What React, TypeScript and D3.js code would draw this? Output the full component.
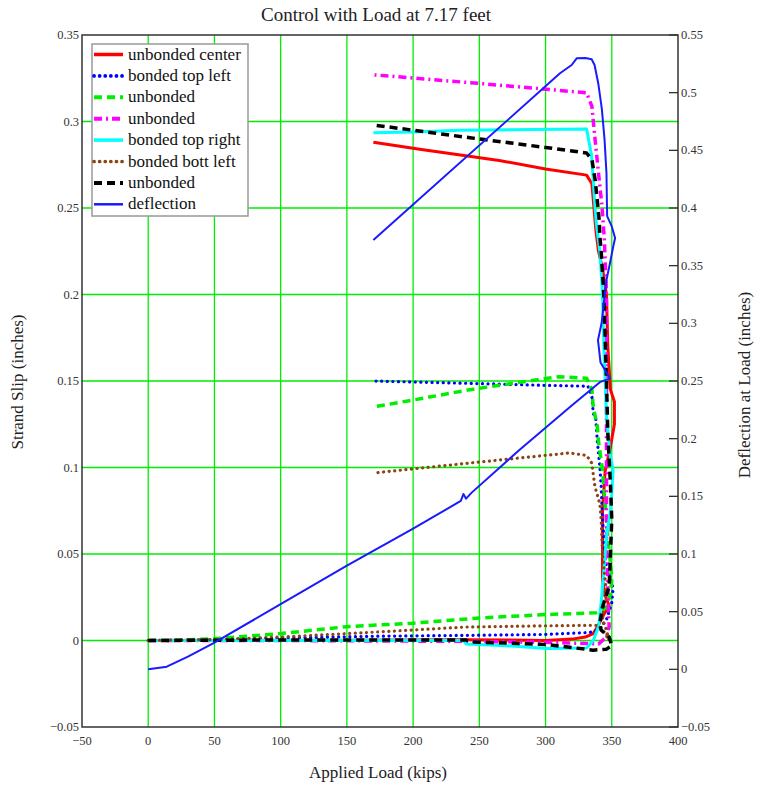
import React from "react";
import * as d3 from "d3";

type P = [number, number];

const title = "Control with Load at 7.17 feet";
const xLabel = "Applied Load (kips)";
const yLeftLabel = "Strand Slip (inches)";
const yRightLabel = "Deflection at Load (inches)";

const xTicks = [-50, 0, 50, 100, 150, 200, 250, 300, 350, 400];
const yLeftTicks = [-0.05, 0, 0.05, 0.1, 0.15, 0.2, 0.25, 0.3, 0.35];
const yRightTicks = [-0.05, 0, 0.05, 0.1, 0.15, 0.2, 0.25, 0.3, 0.35, 0.4, 0.45, 0.5, 0.55];

const unbondedCenter: P[] = [
  [0, 0], [50, 0], [100, 0], [150, 0.0002], [200, 0.0003], [240, 0.0005], [270, 0.0003], [300, 0], [320, 0.0008],
  [330, 0.002], [336, 0.004], [340, 0.009], [344, 0.015], [348, 0.02], [345, 0.026], [343, 0.035], [343, 0.05],
  [343, 0.075], [345, 0.098], [349, 0.112], [352, 0.125], [352, 0.138], [349, 0.145], [347, 0.17], [346, 0.2],
  [343, 0.215], [340, 0.225], [338, 0.237], [336, 0.255], [335, 0.264], [331, 0.269], [300, 0.2725], [265, 0.2775],
  [205, 0.284], [170, 0.288],
];

const bondedTopLeft: P[] = [
  [0, 0], [50, 0.0005], [100, 0.0015], [175, 0.0025], [243, 0.003], [300, 0.0035], [333, 0.0046], [340, 0.006],
  [346, 0.012], [350, 0.022], [351, 0.03], [348, 0.038], [345, 0.046], [344, 0.06], [343, 0.07], [342, 0.089],
  [341, 0.1], [339, 0.116], [338, 0.1275], [336, 0.1315], [335, 0.141], [332, 0.147], [300, 0.1475], [250, 0.1485],
  [170, 0.15],
];

const unbondedA: P[] = [
  [0, 0], [25, 0.0003], [50, 0.001], [100, 0.004], [150, 0.008], [200, 0.01], [250, 0.013], [300, 0.015],
  [338, 0.016], [346, 0.019], [349, 0.027], [350, 0.035], [349, 0.045], [347, 0.06], [345, 0.079], [343, 0.0985],
  [340, 0.115], [339, 0.124], [336, 0.135], [335, 0.145], [331, 0.1516], [310, 0.1525], [296, 0.151], [243, 0.145],
  [200, 0.139], [170, 0.135],
];

const unbondedB: P[] = [
  [0, 0], [100, 0], [240, -0.0005], [300, -0.001], [340, -0.002], [346, 0.002], [348, 0.008], [347, 0.03],
  [346, 0.06], [346, 0.1], [346, 0.15], [346, 0.2], [344.4, 0.2317], [342.6, 0.251], [340, 0.27], [337.4, 0.2895],
  [335, 0.3088], [331, 0.3166], [250, 0.322], [170, 0.327],
];

const bondedTopRight: P[] = [
  [0, 0], [100, 0], [200, 0], [238, 0], [240, -0.002], [270, -0.003], [301, -0.0046], [331, -0.0043], [336, 0],
  [340, 0.008], [342, 0.022], [344, 0.04], [346, 0.06], [349, 0.075], [350, 0.085], [351, 0.0985], [348.6, 0.108],
  [346, 0.13], [344, 0.17], [343, 0.2], [341, 0.225], [338.5, 0.24], [337.3, 0.251], [334.8, 0.28], [331, 0.2957],
  [235, 0.295], [200, 0.294], [170, 0.2935],
];

const bondedBottLeft: P[] = [
  [0, 0], [50, 0.0005], [100, 0.002], [175, 0.005], [240, 0.0078], [300, 0.0085], [340, 0.0088], [345, 0.004],
  [348, 0], [346, 0.006], [343, 0.012], [345.5, 0.031], [343, 0.05], [342, 0.0696], [341, 0.079], [337.3, 0.089],
  [334.8, 0.1026], [331, 0.107], [318, 0.1084], [243, 0.1026], [170, 0.0968],
];

const unbondedC: P[] = [
  [0, 0], [100, 0.0003], [240, 0.0003], [243, -0.0008], [301, -0.0023], [336, -0.0056], [346, -0.005], [350, -0.003],
  [348, 0.002], [342, 0.006], [341, 0.01], [343, 0.0194], [348, 0.031], [349, 0.05], [350, 0.07], [349, 0.09],
  [347, 0.12], [346, 0.15], [344, 0.2], [342, 0.225], [341, 0.2336], [340.5, 0.243], [339, 0.2548], [337.5, 0.266],
  [335, 0.278], [331, 0.2818], [300, 0.285], [243, 0.2906], [170, 0.298],
];

const deflection: P[] = [
  [0, 0], [14, 0.0023], [30, 0.011], [49, 0.0225], [99, 0.0558], [150, 0.09], [200, 0.122], [236, 0.146],
  [238, 0.152], [240, 0.148], [244, 0.153], [280, 0.19], [320, 0.229], [341, 0.249], [348.6, 0.2523],
  [341.5, 0.266], [339.6, 0.2855], [342.3, 0.3], [346, 0.3376], [348.6, 0.352], [351, 0.366], [352.5, 0.374],
  [350, 0.384], [346.5, 0.393], [346, 0.43], [344.5, 0.46], [342.5, 0.486], [339.8, 0.508], [337, 0.524], [334.8, 0.529],
  [330, 0.53], [323.5, 0.5298], [319.7, 0.524], [310.9, 0.5168], [170, 0.3722],
];

const seriesNames = [
  "unbonded center", "bonded top left", "unbonded", "unbonded", "bonded top right", "bonded bott left", "unbonded", "deflection",
];
const seriesData = [unbondedCenter, bondedTopLeft, unbondedA, unbondedB, bondedTopRight, bondedBottLeft, unbondedC, deflection];

const styles = [
  { color: "#ff0000", width: 3, dash: "", cap: "butt" },
  { color: "#0000ff", width: 3.2, dash: "0.1 5.5", cap: "round" },
  { color: "#00ee00", width: 3.5, dash: "8 5", cap: "butt" },
  { color: "#ff00ff", width: 3.5, dash: "8 4 2 4", cap: "butt" },
  { color: "#00ffff", width: 3, dash: "", cap: "butt" },
  { color: "#8b4513", width: 3.2, dash: "0.1 5.5", cap: "round" },
  { color: "#000000", width: 3.5, dash: "8 5", cap: "butt" },
  { color: "#1a1aff", width: 2, dash: "", cap: "butt" },
];

const W = 759;
const H = 788;
const L = 82, R = 678, T = 35, B = 727;
const font = "'Liberation Serif', 'Times New Roman', serif";

function fmt(v: number) {
  const s = d3.format("")(Math.round(v * 1000) / 1000);
  return s.replace("-", "\u2212");
}

export default function App() {
  const x = d3.scaleLinear().domain([-50, 400]).range([L, R]);
  const yL = d3.scaleLinear().domain([-0.05, 0.35]).range([B, T]);
  const yR = d3.scaleLinear().domain([-0.05, 0.55]).range([B, T]);

  const lineL = d3.line<P>().x((d) => x(d[0])).y((d) => yL(d[1]));
  const lineR = d3.line<P>().x((d) => x(d[0])).y((d) => yR(d[1]));

  const legX = 92, legY = 44, legW = 156, legH = 172, rowH = 21.4;

  return (
    <svg width={W} height={H} style={{ position: "absolute", left: 0, top: 0, background: "#fff" }} fontFamily={font}>
      <rect x={0} y={0} width={W} height={H} fill="#fff" />
      <text x={376} y={21} fontSize={19} textAnchor="middle" fill="#222">{title}</text>

      {/* grid */}
      {xTicks.filter((t) => t > -50 && t < 400).map((t) => (
        <line key={"gx" + t} x1={x(t)} x2={x(t)} y1={T} y2={B} stroke="#00ee00" strokeWidth={1.3} />
      ))}
      {yLeftTicks.filter((t) => t > -0.05 && t < 0.35).map((t) => (
        <line key={"gy" + t} x1={L} x2={R} y1={yL(t)} y2={yL(t)} stroke="#00ee00" strokeWidth={1.3} />
      ))}

      {/* series */}
      <defs>
        <clipPath id="plot"><rect x={L} y={T} width={R - L} height={B - T} /></clipPath>
      </defs>
      <g clipPath="url(#plot)">
        {seriesData.map((d, i) => (
          <path
            key={"s" + i}
            d={(i === 7 ? lineR(d) : lineL(d)) || ""}
            fill="none"
            stroke={styles[i].color}
            strokeWidth={styles[i].width}
            strokeDasharray={styles[i].dash || undefined}
            strokeLinecap={styles[i].cap as any}
            strokeLinejoin="round"
          />
        ))}
      </g>

      {/* frame */}
      <rect x={L} y={T} width={R - L} height={B - T} fill="none" stroke="#333" strokeWidth={1.5} />

      {/* left ticks */}
      {yLeftTicks.map((t) => (
        <text key={"yl" + t} x={79} y={yL(t) + 4} fontSize={12.5} textAnchor="end" fill="#333">{fmt(t)}</text>
      ))}
      {/* right ticks */}
      {yRightTicks.map((t) => (
        <g key={"yr" + t}>
          <line x1={R - 9} x2={R} y1={yR(t)} y2={yR(t)} stroke="#333" strokeWidth={1.3} />
          <text x={681} y={yR(t) + 4} fontSize={12.5} textAnchor="start" fill="#333">{fmt(t)}</text>
        </g>
      ))}
      {/* x ticks */}
      {xTicks.map((t) => (
        <text key={"xt" + t} x={x(t)} y={745} fontSize={12.5} textAnchor="middle" fill="#333">{fmt(t)}</text>
      ))}

      <text x={378} y={778} fontSize={17} textAnchor="middle" fill="#222">{xLabel}</text>
      <text transform={`translate(23,382) rotate(-90)`} fontSize={17} textAnchor="middle" fill="#222">{yLeftLabel}</text>
      <text transform={`translate(750,385) rotate(-90)`} fontSize={17} textAnchor="middle" fill="#222">{yRightLabel}</text>

      {/* legend */}
      <rect x={legX} y={legY} width={legW} height={legH} fill="#fff" stroke="#999" strokeWidth={1.5} />
      {seriesNames.map((n, i) => {
        const cy = legY + 10.5 + i * rowH;
        return (
          <g key={"lg" + i}>
            <line x1={legX + 2} x2={legX + 31} y1={cy} y2={cy} stroke={styles[i].color}
              strokeWidth={styles[i].width + 0.5} strokeDasharray={styles[i].dash || undefined}
              strokeLinecap={styles[i].cap as any} />
            <text x={legX + 36} y={cy + 5} fontSize={17} fill="#111">{n}</text>
          </g>
        );
      })}
    </svg>
  );
}
